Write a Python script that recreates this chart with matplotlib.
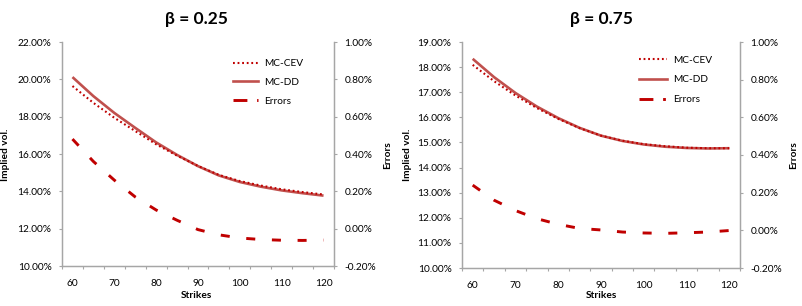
import matplotlib
matplotlib.use("Agg")
import matplotlib.pyplot as plt
from matplotlib.lines import Line2D

plt.rcParams["font.family"] = ["Lato", "DejaVu Sans"]
plt.rcParams["lines.scale_dashes"] = False

# strikes (category axis, every 5)
strikes = [60, 65, 70, 75, 80, 85, 90, 95, 100, 105, 110, 115, 120]
tick_labels = ["60", "70", "80", "90", "100", "110", "120"]

# beta = 0.25 (implied vol in %, errors in %)
cev_025 = [19.64, 18.74, 17.94, 17.23, 16.52, 15.91, 15.36, 14.88, 14.55, 14.31, 14.11, 13.96, 13.83]
dd_025 = [20.12, 19.10, 18.20, 17.40, 16.62, 15.95, 15.35, 14.85, 14.50, 14.25, 14.05, 13.90, 13.77]
err_025 = [0.48, 0.36, 0.26, 0.17, 0.10, 0.045, -0.005, -0.033, -0.05, -0.058, -0.062, -0.063, -0.061]

# beta = 0.75
cev_075 = [18.09, 17.44, 16.87, 16.37, 15.94, 15.57, 15.27, 15.07, 14.93, 14.85, 14.79, 14.77, 14.77]
dd_075 = [18.33, 17.60, 16.97, 16.43, 15.97, 15.58, 15.27, 15.06, 14.92, 14.83, 14.78, 14.76, 14.77]
err_075 = [0.24, 0.16, 0.105, 0.062, 0.032, 0.01, 0.002, -0.009, -0.014, -0.016, -0.013, -0.009, -0.001]

RED = "#C00000"
RED_SOLID = "#C0504D"
GREY = "#A6A6A6"
FS = 7.3

W, H = 802, 306
fig = plt.figure(figsize=(W / 100, H / 100), dpi=100)


def px_rect(left, right, top, bottom):
    return [left / W, 1 - bottom / H, (right - left) / W, (bottom - top) / H]


def pct(v, _pos=None):
    return f"{v:.2f}%"


def panel(rect, title, cev, dd, err, ylim, ystep, title_x, lab_l, lab_r, leg_xy, handlelen, spacing):
    ax = fig.add_axes(rect)
    x = list(range(len(strikes)))
    ax.plot(x, dd, color=RED_SOLID, lw=1.9, solid_capstyle="butt")
    ax.plot(x, cev, color=RED, lw=1.5, linestyle=(0, (1.3, 2.0)))
    ax.set_xlim(-0.5, len(strikes) - 0.5)
    ax.set_ylim(*ylim)
    yt = []
    v = ylim[0]
    while v <= ylim[1] + 1e-9:
        yt.append(v)
        v += ystep
    ax.set_yticks(yt)
    ax.set_yticklabels([pct(t) for t in yt], fontsize=FS)

    ax2 = ax.twinx()
    ax2.plot(x, err, color=RED, lw=2.1, linestyle=(0, (6.5, 12.0)), dash_capstyle="butt")
    ax2.set_ylim(-0.2, 1.0)
    et = [-0.2, 0.0, 0.2, 0.4, 0.6, 0.8, 1.0]
    ax2.set_yticks(et)
    ax2.set_yticklabels([pct(t) for t in et], fontsize=FS)

    # category boundaries as tick marks, labels on every 2nd category
    ax.set_xticks([i - 0.5 for i in range(len(strikes) + 1)])
    ax.set_xticklabels([])
    ax.set_xticks(x[::2], minor=True)
    ax.set_xticklabels(tick_labels, minor=True, fontsize=FS)
    ax.tick_params(axis="x", which="minor", length=0, pad=9)
    ax.tick_params(axis="x", which="major", length=2.5, color=GREY, width=0.8)
    ax.tick_params(axis="y", length=2.5, color=GREY, width=0.8, pad=5)
    ax2.tick_params(axis="y", length=2.5, color=GREY, width=0.8, pad=5)

    for a in (ax, ax2):
        a.spines["top"].set_visible(False)
        for s in ("left", "right", "bottom"):
            a.spines[s].set_color(GREY)
            a.spines[s].set_linewidth(0.9)

    fig.text(title_x / W, 1 - 19 / H, title, ha="center", va="center",
             fontsize=12.5, fontweight="bold")
    fig.text(lab_l / W, 1 - 155 / H, "Implied vol.", rotation=90, ha="center",
             va="center", fontsize=FS, fontweight="bold")
    fig.text(lab_r / W, 1 - 155 / H, "Errors", rotation=90, ha="center",
             va="center", fontsize=FS, fontweight="bold")
    fig.text(title_x / W, 1 - 295 / H, "Strikes", ha="center", va="center",
             fontsize=FS, fontweight="bold")

    handles = [
        Line2D([], [], color=RED, lw=1.5, linestyle=(0, (1.3, 2.0))),
        Line2D([], [], color=RED_SOLID, lw=1.9),
        Line2D([], [], color=RED, lw=2.1, linestyle=(0, (10, 7, 2, 7))),
    ]
    ax2.legend(handles, ["MC-CEV", "MC-DD", "Errors"], loc="upper left",
               bbox_to_anchor=(leg_xy[0] / W, 1 - leg_xy[1] / H),
               bbox_transform=fig.transFigure, frameon=False, fontsize=FS,
               borderpad=0, borderaxespad=0, handlelength=handlelen,
               handletextpad=0.6, labelspacing=spacing)
    return ax, ax2


panel(px_rect(62, 334, 42, 266), "\u03b2 = 0.25", cev_025, dd_025, err_025,
      (10, 22), 2, 196, 6, 388, (233, 59), 2.5, 0.95)
panel(px_rect(462, 740, 42, 268), "\u03b2 = 0.75", cev_075, dd_075, err_075,
      (10, 19), 1, 601, 407, 794, (639, 55.5), 2.75, 1.05)

fig.savefig("out.png", dpi=100)
